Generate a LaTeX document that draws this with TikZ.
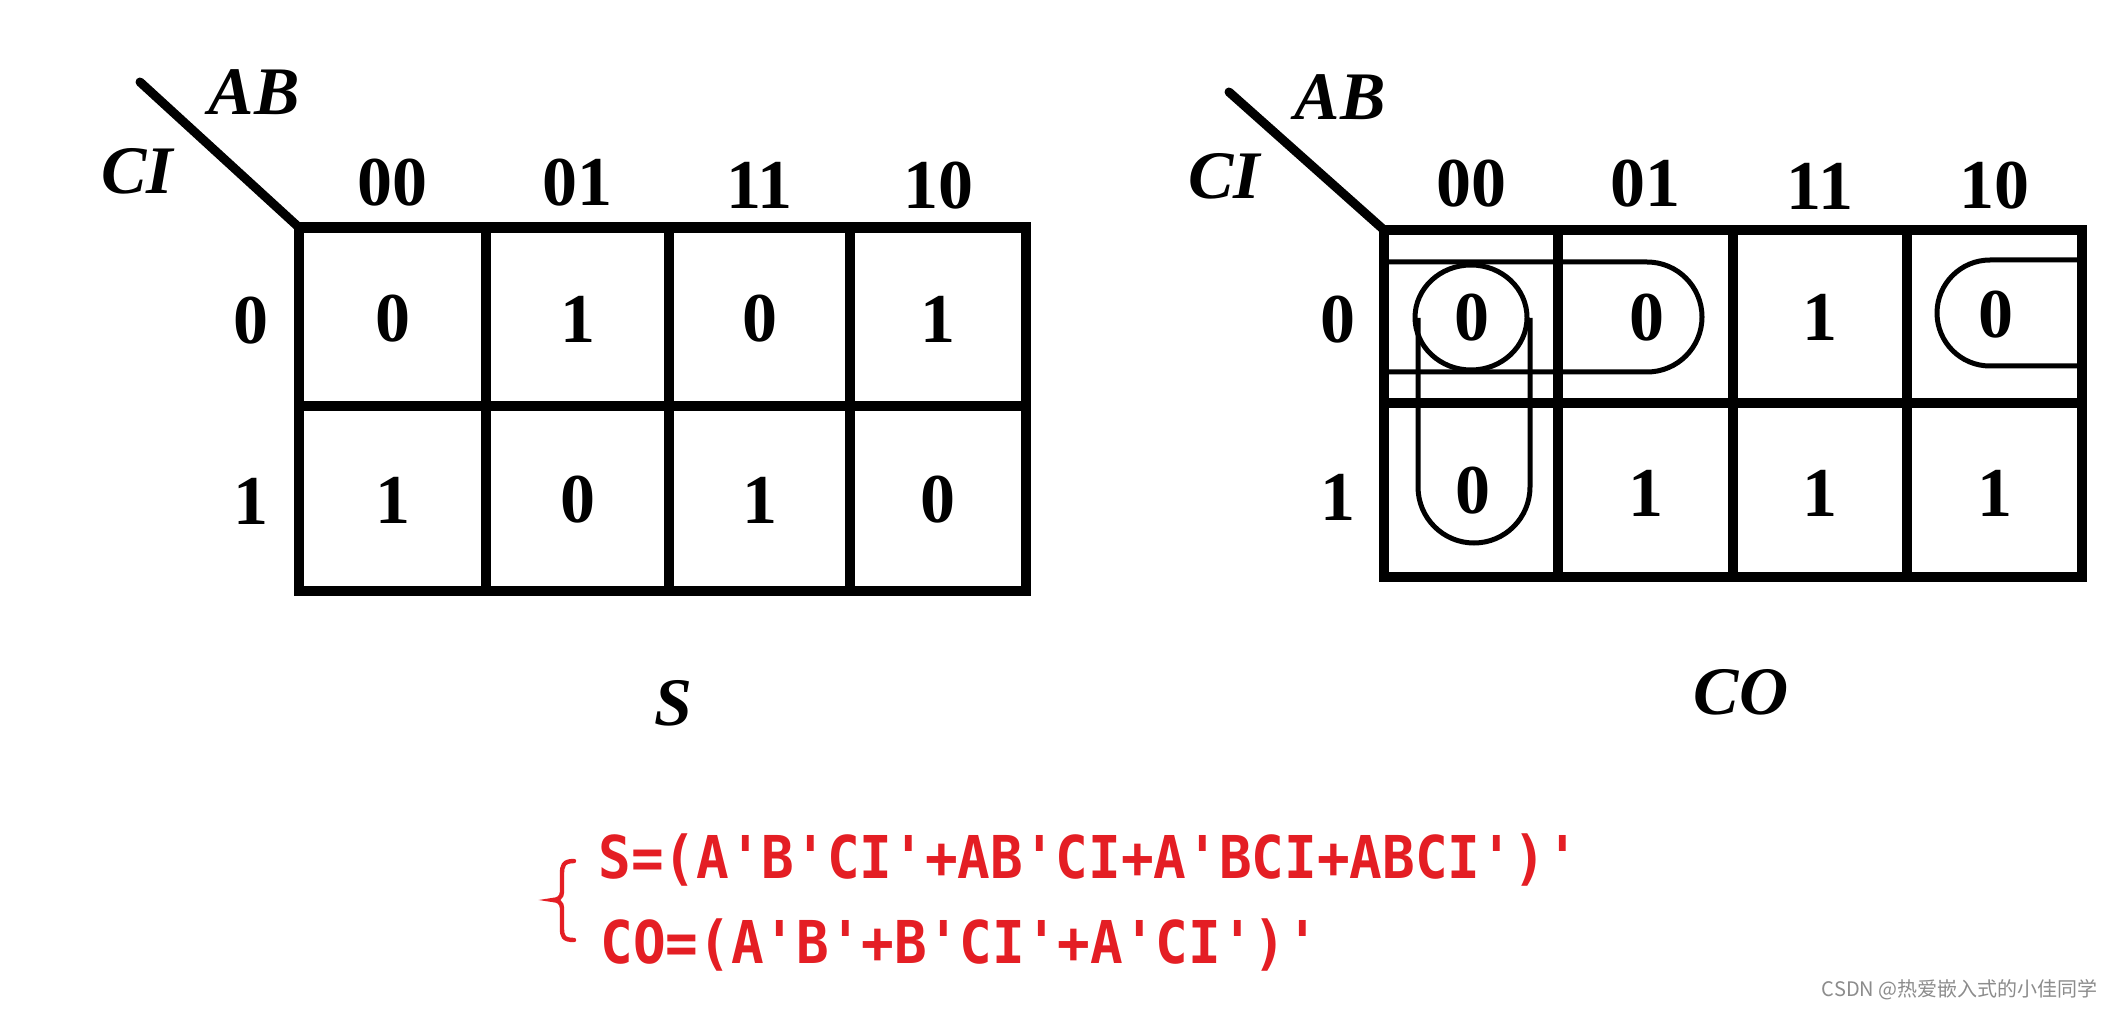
\documentclass[tikz,border=0pt]{standalone}
\usepackage{fontspec}
\setmainfont{Liberation Serif}
\newfontfamily\redmono[FakeStretch=0.92]{DejaVu Sans Mono}
\newfontfamily\cjkf{Noto Sans CJK SC}
\newcommand\qq{\char"27\relax}
\definecolor{redf}{RGB}{228,30,36}
\definecolor{wmgray}{RGB}{140,140,140}
\begin{document}
\begin{tikzpicture}[x=0.5pt,y=-0.5pt,
  gridline/.style={line width=5.25pt, line join=miter, line cap=rect},
  diag/.style={line width=4.5pt, line cap=round},
  loopline/.style={line width=2.5pt},
  digit/.style={font=\fontsize{35}{40}\selectfont\bfseries, inner sep=0pt},
  lab/.style={font=\fontsize{34}{40}\selectfont\bfseries\itshape, inner sep=0pt},
  formula/.style={font=\redmono\bfseries\fontsize{29.5}{34}\selectfont, text=redf, inner sep=0pt, anchor=base west},
  wm/.style={font=\cjkf\fontsize{10}{12}\selectfont, text=wmgray, inner sep=0pt, anchor=east}
]
\useasboundingbox (0,0) rectangle (2114,1010);
\fill[white] (0,0) rectangle (2114,1010);

% ---------- left map (S) ----------
\coordinate (Ltip) at (140,82);
\coordinate (Lc) at (299,227.5);
\draw[diag] (Ltip) -- (Lc);
\draw[gridline] (299,227.5) rectangle (1026,591);
\draw[gridline] (299,406) -- (1026,406);
\foreach \x in {486,669,850} \draw[gridline] (\x,227.5) -- (\x,591);

\node[lab] (LAB) at (254,92) {AB};
\node[lab] (LCI) at (137,171) {CI};
\node[digit] (Lh00) at (392.5,183) {00};
\node[digit] (Lh01) at (577.5,183) {01};
\node[digit] (Lh11) at (759.5,185) {11};
\node[digit] (Lh10) at (938,186) {10};
\node[digit] (Lr0) at (251,321) {0};
\node[digit] (Lr1) at (251,501) {1};
\node[digit] (L00) at (392.5,319) {0};
\node[digit] (L01) at (577.5,319) {1};
\node[digit] (L02) at (759.5,319) {0};
\node[digit] (L03) at (938,319) {1};
\node[digit] (L10) at (392.5,500) {1};
\node[digit] (L11) at (577.5,500) {0};
\node[digit] (L12) at (759.5,500) {1};
\node[digit] (L13) at (938,500) {0};
\node[lab] (Sname) at (673,703) {S};

% ---------- right map (CO) ----------
\coordinate (Rtip) at (1229,92);
\coordinate (Rc) at (1384,230);
\draw[diag] (Rtip) -- (Rc);
\draw[gridline] (1384,230) rectangle (2082,577);
\draw[gridline] (1384,403) -- (2082,403);
\foreach \x in {1558,1733,1907} \draw[gridline] (\x,230) -- (\x,577);

\node[lab] (RAB) at (1340,97) {AB};
\node[lab] (RCI) at (1224,176) {CI};
\node[digit] (Rh00) at (1471,184) {00};
\node[digit] (Rh01) at (1645.5,184) {01};
\node[digit] (Rh11) at (1820,186) {11};
\node[digit] (Rh10) at (1994.5,186) {10};
\node[digit] (Rr0) at (1338,320) {0};
\node[digit] (Rr1) at (1338,497) {1};
\node[digit] (R00) at (1472,317.5) {0};
\node[digit] (R01) at (1647,317.5) {0};
\node[digit] (R02) at (1820,317.5) {1};
\node[digit] (R03) at (1996,315) {0};
\node[digit] (R10) at (1473,490.5) {0};
\node[digit] (R11) at (1645.5,493) {1};
\node[digit] (R12) at (1820,493) {1};
\node[digit] (R13) at (1994.5,493) {1};
\node[lab] (COname) at (1741,692) {CO};

% loops
\draw[loopline] (1471,317.5) ellipse [x radius=28pt, y radius=26.25pt];
\draw[loopline] (1418,318) -- (1418,487) arc[start angle=180, end angle=360, radius=28pt] -- (1530,318);
\draw[loopline] (1384,262) -- (1647,262) arc[start angle=90, end angle=-90, radius=27.5pt] -- (1384,372);
\draw[loopline] (2082,260) -- (1990,260) arc[start angle=90, end angle=270, radius=26.5pt] -- (2082,366);

% ---------- formulas ----------
\draw[redf, line width=2.2pt, line cap=round]
  (574,861) .. controls (563,861) and (562,866) .. (562,874) -- (562,892)
  .. controls (562,897) and (558,900) .. (553,900)
  .. controls (558,900) and (562,903) .. (562,908) -- (562,928)
  .. controls (562,936) and (563,940) .. (574,940);
\node[formula] (F1) at (598,878) {S=(A\qq B\qq CI\qq+AB\qq CI+A\qq BCI+ABCI\qq)\qq};
\node[formula] (F2) at (600,963) {CO=(A\qq B\qq+B\qq CI\qq+A\qq CI\qq)\qq};

\node[wm] (WM) at (2098,990) {CSDN @热爱嵌入式的小佳同学};
\end{tikzpicture}
\end{document}
